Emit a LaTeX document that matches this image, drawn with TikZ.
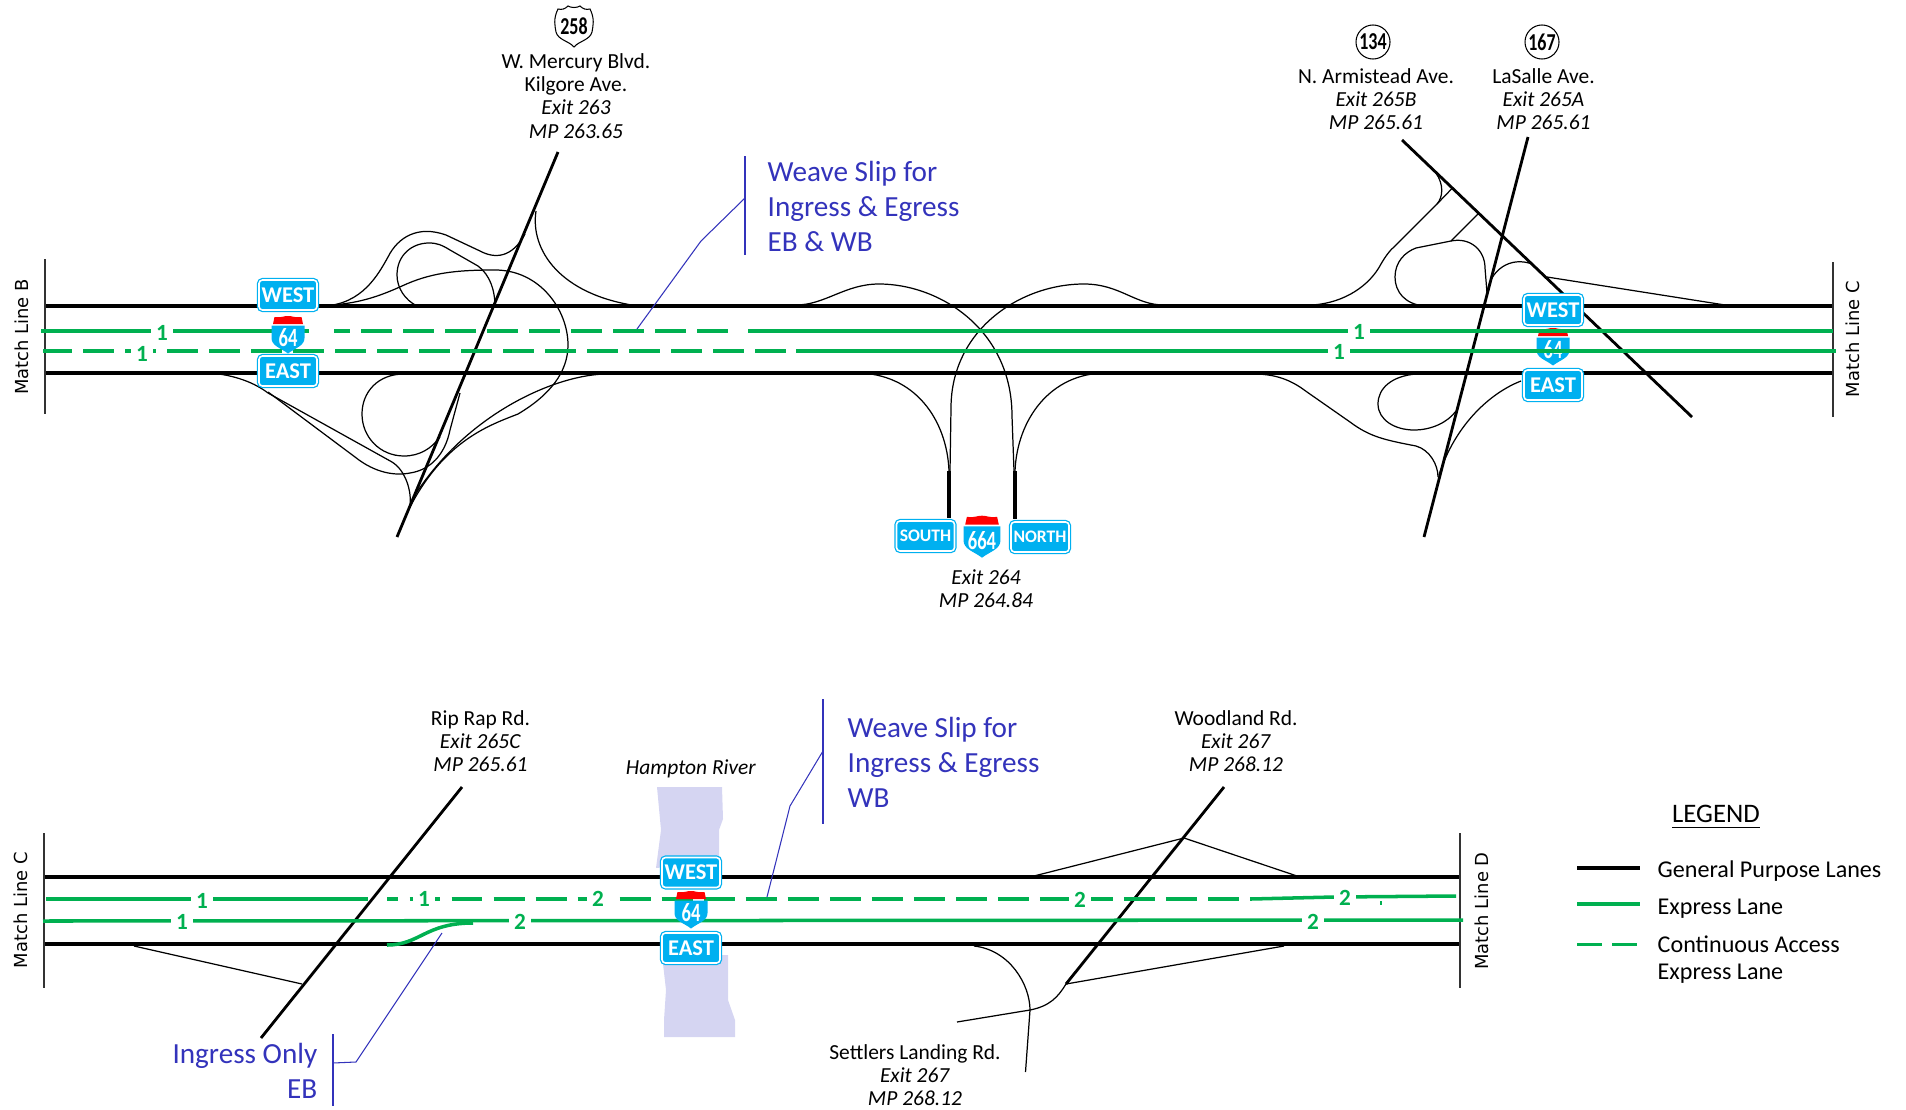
\documentclass[tikz,border=0pt]{standalone}
\usepackage{fontspec}
\setmainfont{Carlito}
\newfontfamily\matchfont{DejaVu Sans}
\definecolor{signblue}{HTML}{00B0F0}
\definecolor{signred}{HTML}{FF0000}
\definecolor{lanegreen}{HTML}{00B050}
\definecolor{notecolor}{HTML}{3333BB}
\definecolor{rivercolor}{HTML}{D5D5F2}
\tikzset{
  gplane/.style={line width=1pt},
  lane/.style={lanegreen,line width=1pt},
  accesslane/.style={lane,dash pattern=on 8.8pt off 3.15pt},
  mainroad/.style={line width=.8pt},
  ramp/.style={line width=.35pt},
  matchline/.style={line width=.3pt,black!80},
  leader/.style={notecolor,line width=.3pt},
  lanenum/.style={fill=white,inner sep=0pt,minimum width=.22cm,minimum height=.14cm,text=lanegreen,font=\fontsize{6.6}{7}\selectfont\bfseries},
  lanesign/.style={draw=signblue,fill=signblue,double=white,double distance=.45pt,line width=.35pt,rounded corners=1pt,
    minimum width=.58cm,minimum height=.30cm,inner sep=0pt,text=white,font=\fontsize{6.4}{7}\selectfont\bfseries},
  smallsign/.style={lanesign,font=\fontsize{5}{6}\selectfont\bfseries},
  exitlabel/.style={align=center,inner sep=0pt,font=\fontsize{6.1}{6.6}\selectfont},
  weavelabel/.style={inner sep=0pt,text=notecolor,font=\fontsize{8.3}{9.95}\selectfont},
  legendlabel/.style={anchor=west,inner sep=0pt,align=left,font=\fontsize{6.85}{7.5}\selectfont},
  matchlabel/.style={rotate=90,inner sep=0pt,font=\fontsize{5.1}{6}\matchfont},
  routenum/.style={inner sep=0pt,font=\fontsize{6}{7}\selectfont\bfseries},
}
\newcommand{\interstate}[5]{
  \begin{scope}[shift={(#2,#3)},scale=#5]
    \fill[signred] (-15,-11) -- (-13.5,-18) .. controls (-6,-17) and (-3,-19.5) .. (0,-19) .. controls (3,-19.5) and (6,-17) .. (13.5,-18) -- (15,-11) -- cycle;
    \fill[signblue] (-16.5,-9.5) -- (16.5,-9.5) -- (16.5,3) .. controls (16.5,11) and (7,13) .. (0,18.5) .. controls (-7,13) and (-16.5,11) .. (-16.5,3) -- cycle;
    \node[routenum,text=white] (#1) at (0,3) {\scalebox{.88}[1.25]{#4}};
  \end{scope}
}
\begin{document}
\begin{tikzpicture}[x=.01cm,y=-.01cm]
  \useasboundingbox (0,0) rectangle (1906,1109);

  \fill[rivercolor] (657,787) -- (722,787) -- (723,819) -- (719,830) -- (719,862) -- (656,868) -- (661,830) -- cycle;
  \fill[rivercolor] (662,955) -- (728,955) -- (728,1000) -- (735,1020) -- (735,1037) -- (664,1037) -- (664,1020) -- (666,990) -- cycle;

  \coordinate (bandAw) at (45,306);
  \coordinate (bandAe) at (1833,306);
  \coordinate (bandBw) at (45,373);
  \coordinate (bandBe) at (1833,373);
  \coordinate (bandCw) at (44,877);
  \coordinate (bandCe) at (1460,877);
  \coordinate (bandDw) at (44,944);
  \coordinate (bandDe) at (1460,944);
  \draw[gplane] (bandAw) -- (bandAe);
  \draw[gplane] (bandBw) -- (bandBe);
  \draw[gplane] (bandCw) -- (bandCe);
  \draw[gplane] (bandDw) -- (bandDe);

  \draw[matchline] (45,259) -- (45,414);
  \draw[matchline] (1833,262) -- (1833,417);
  \draw[matchline] (44,833) -- (44,988);
  \draw[matchline] (1460,833) -- (1460,988);

  \draw[ramp] (324,306) .. controls (362,304) and (378,275) .. (388,257) .. controls (398,237) and (418,225) .. (446,235) -- (480,251) .. controls (495,259) and (512,258) .. (525,234);
  \draw[ramp] (430,306) -- (417,306) .. controls (405,300) and (397,288) .. (397,275) .. controls (397,255) and (412,243) .. (429,243) .. controls (437,243) and (442,245) .. (450,250) -- (478,266) .. controls (490,275) and (495,290) .. (495,307);
  \draw[ramp] (332,305) .. controls (360,303) and (380,296) .. (402,286) .. controls (430,273) and (455,270) .. (495,270) .. controls (540,270) and (568,310) .. (568,345) .. controls (568,372) and (550,395) .. (518,414) .. controls (490,425) and (445,440) .. (410,507);
  \draw[ramp] (536,211) .. controls (530,250) and (560,295) .. (638,306);
  \draw[ramp] (210,373) .. controls (235,375) and (255,383) .. (268,393) -- (392,462) .. controls (405,470) and (412,490) .. (410,507);
  \draw[ramp] (268,392) -- (355,457) .. controls (375,473) and (395,476) .. (410,473) .. controls (430,470) and (445,455) .. (450,430) -- (460,393);
  \draw[ramp] (404,374) .. controls (378,374) and (362,392) .. (362,414) .. controls (362,437) and (380,456) .. (404,456) .. controls (420,456) and (432,448) .. (440,437);
  \draw[ramp] (607,374) .. controls (560,374) and (470,410) .. (415,495);

  \draw[ramp] (796,305) .. controls (825,305) and (845,284) .. (879,284) .. controls (940,284) and (1012,330) .. (1012,416) -- (1014,471);
  \draw[ramp] (1164,305) .. controls (1135,305) and (1120,284) .. (1084,284) .. controls (1020,284) and (951,330) .. (951,408) -- (950,471);
  \draw[ramp] (856,373) .. controls (915,373) and (947,420) .. (949,471);
  \draw[ramp] (1106,373) .. controls (1050,373) and (1017,420) .. (1015,471);
  \coordinate (southEnd) at (949,518);
  \coordinate (southTop) at (949,471);
  \coordinate (northEnd) at (1015,519);
  \coordinate (northTop) at (1015,471);
  \draw[gplane] (southTop) -- (southEnd);
  \draw[gplane] (northTop) -- (northEnd);

  \draw[ramp] (1312,305) .. controls (1345,303) and (1370,285) .. (1381,264) .. controls (1385,257) and (1390,250) .. (1395,246) -- (1437,204) .. controls (1443,197) and (1444,185) .. (1436,173);
  \draw[ramp] (1451.5,189) -- (1437,204);
  \draw[ramp] (1478,214) -- (1451,241);
  \draw[ramp] (1424,306) .. controls (1405,304) and (1395,292) .. (1395,277) .. controls (1395,262) and (1405,252) .. (1416,248) -- (1451,241) .. controls (1470,237) and (1485,250) .. (1485,268) -- (1487,293);
  \draw[ramp] (1487,293) .. controls (1490,270) and (1510,256) .. (1532,264);
  \draw[ramp] (1547,277) -- (1725,305);
  \draw[ramp] (1416,374) .. controls (1392,376) and (1378,388) .. (1378,404) .. controls (1378,420) and (1395,430) .. (1414,430) .. controls (1432,430) and (1448,422) .. (1456,411);
  \draw[ramp] (1254,374) .. controls (1280,374) and (1295,383) .. (1307,392) -- (1350,422) .. controls (1370,437) and (1385,440) .. (1416,446) .. controls (1430,450) and (1438,465) .. (1438,477);
  \draw[ramp] (1521,381) .. controls (1490,393) and (1455,425) .. (1439,475);

  \draw[ramp] (134,946) -- (302,984);
  \draw[ramp] (1030,877) -- (1184,838) -- (1300,877);
  \draw[ramp] (1284,946) -- (1066,984);
  \draw[ramp] (1066,984) .. controls (1058,997) and (1050,1006) .. (1030,1010) -- (957,1022);
  \draw[ramp] (974,946) .. controls (1010,950) and (1030,985) .. (1030,1010) -- (1025.5,1072);

  \coordinate (usTop) at (558,152);
  \coordinate (usEnd) at (397,537);
  \coordinate (armisteadTop) at (1402,140);
  \coordinate (armisteadEnd) at (1692,417);
  \coordinate (lasalleTop) at (1528,137);
  \coordinate (lasalleEnd) at (1424,537);
  \coordinate (ripTop) at (462,787);
  \coordinate (ripEnd) at (261,1038);
  \coordinate (woodTop) at (1224,787);
  \coordinate (woodEnd) at (1066,984);
  \draw[mainroad] (usTop) -- (usEnd);
  \draw[mainroad] (armisteadTop) -- (armisteadEnd);
  \draw[mainroad] (lasalleTop) -- (lasalleEnd);
  \draw[mainroad] (ripTop) -- (ripEnd);
  \draw[mainroad] (woodTop) -- (woodEnd);

  \interstate{shieldB}{1553}{347}{64}{1}

  \draw[lane] (41,331) -- (309,331);
  \draw[accesslane,dash phase=4.27pt] (334,331) -- (729,331);
  \draw[lane] (748,331) -- (1833,331);
  \draw[accesslane,dash phase=.57pt] (43,351) -- (789,351);
  \draw[lane] (796,351) -- (1836,351);
  \draw[lane] (46,899) -- (368,899);
  \draw[accesslane,dash phase=5.55pt] (387,899) -- (1251,899);
  \draw[lane] (1251,899) -- (1334,897) -- (1456,896);
  \draw[lane] (43,921) -- (1463,920);
  \draw[lane] (387,945) .. controls (420,945) and (425,923) .. (473,923);
  \draw[lanegreen,line width=.3pt] (1381,901) -- (1381,905);

  \foreach \lname/\lx/\ly/\ltext in {a/162/333/1,b/142/354/1,c/1359/332/1,d/1339/352/1,e/202/901/1,f/424/899/1,g/598/899/2,h/182/922/1,i/520/922/2,j/1080/900/2,k/1345/898/2,l/1313/922/2}
    \node[lanenum] (lanenum\lname) at (\lx,\ly) {\ltext};

  \interstate{shieldA}{288}{335}{64}{1}
  \interstate{shieldC}{691}{910}{64}{1}
  \interstate{shieldD}{982}{537}{664}{1.12}

  \node[lanesign] (westA) at (288,295) {WEST};
  \node[lanesign] (eastA) at (288,371) {EAST};
  \node[lanesign] (westB) at (1553,310) {WEST};
  \node[lanesign] (eastB) at (1553,385) {EAST};
  \node[lanesign] (westC) at (691,872.5) {WEST};
  \node[lanesign] (eastC) at (691,948) {EAST};
  \node[smallsign] (south) at (925.5,536) {SOUTH};
  \node[smallsign] (north) at (1040,537) {NORTH};

  \begin{scope}[shift={(574,26)}]
    \draw[fill=white,line width=.3pt] (-16,-17) .. controls (-12,-16) and (-9,-17) .. (-6,-20) .. controls (-3,-18) and (3,-18) .. (6,-20) .. controls (9,-17) and (12,-16) .. (16,-17)
      .. controls (21,-7) and (19,0) .. (18,6) .. controls (16,14) and (5,15) .. (0,21) .. controls (-5,15) and (-16,14) .. (-18,6) .. controls (-19,0) and (-21,-7) .. (-16,-17) -- cycle;
    \node[routenum] (route258) at (0,0) {\scalebox{.85}[1.15]{258}};
  \end{scope}
  \node[routenum,draw,circle,line width=.3pt,minimum size=.34cm] (route134) at (1373,42) {\scalebox{.85}[1.15]{134}};
  \node[routenum,draw,circle,line width=.3pt,minimum size=.34cm] (route167) at (1542,42) {\scalebox{.85}[1.15]{167}};

  \node[exitlabel] (mercury) at (576,96) {W. Mercury Blvd.\\Kilgore Ave.\\\textit{Exit 263}\\\textit{MP 263.65}};
  \node[exitlabel] (armistead) at (1376,99) {N. Armistead Ave.\\\textit{Exit 265B}\\\textit{MP 265.61}};
  \node[exitlabel] (lasalle) at (1543.5,99) {LaSalle Ave.\\\textit{Exit 265A}\\\textit{MP 265.61}};
  \node[exitlabel] (exit664) at (986,589) {\textit{Exit 264}\\\textit{MP 264.84}};
  \node[exitlabel] (riprap) at (480.5,741) {Rip Rap Rd.\\\textit{Exit 265C}\\\textit{MP 265.61}};
  \node[exitlabel] (hampton) at (691,769) {\textit{Hampton River}};
  \node[exitlabel] (woodland) at (1236,741) {Woodland Rd.\\\textit{Exit 267}\\\textit{MP 268.12}};
  \node[exitlabel] (settlers) at (915,1075) {Settlers Landing Rd.\\\textit{Exit 267}\\\textit{MP 268.12}};

  \node[matchlabel] (matchB) at (22,337) {Match Line B};
  \node[matchlabel] (matchCa) at (1853,339) {Match Line C};
  \node[matchlabel] (matchCb) at (21,910) {Match Line C};
  \node[matchlabel] (matchD) at (1482,911) {Match Line D};

  \node[weavelabel,align=left,anchor=west] (weaveA) at (767,206) {Weave Slip for\\Ingress \& Egress\\EB \& WB};
  \node[weavelabel,align=left,anchor=west] (weaveB) at (847,762) {Weave Slip for\\Ingress \& Egress\\WB};
  \node[weavelabel,align=right,anchor=east] (ingress) at (318,1071) {Ingress Only\\EB};

  \coordinate (weaveAbarT) at (745,156);
  \coordinate (weaveAbarB) at (745,255);
  \coordinate (weaveAtip) at (637,329);
  \coordinate (weaveBbarT) at (823,699);
  \coordinate (weaveBbarB) at (823,824);
  \coordinate (weaveBtip) at (767,897);
  \coordinate (ingressbarT) at (333,1034);
  \coordinate (ingressbarB) at (333,1106);
  \coordinate (ingresstip) at (442,933);
  \draw[leader] (weaveAbarT) -- (weaveAbarB);
  \draw[leader] (745,198) -- (701,241) -- (weaveAtip);
  \draw[leader] (weaveBbarT) -- (weaveBbarB);
  \draw[leader] (823,751) -- (790,806) -- (weaveBtip);
  \draw[leader] (ingressbarT) -- (ingressbarB);
  \draw[leader] (333,1063) -- (356,1062) -- (ingresstip);

  \node[inner sep=0pt,font=\fontsize{7.6}{9}\selectfont] (legend) at (1716,817.5) {\underline{LEGEND}};
  \coordinate (keyAw) at (1577,868);
  \coordinate (keyAe) at (1640,868);
  \coordinate (keyBw) at (1577,904);
  \coordinate (keyBe) at (1640,904);
  \coordinate (keyCw) at (1577,944);
  \coordinate (keyCe) at (1639,944);
  \draw[gplane] (keyAw) -- (keyAe);
  \draw[lane] (keyBw) -- (keyBe);
  \draw[lane,line width=.85pt,dash pattern=on 7.1pt off 2.9pt] (keyCw) -- (keyCe);
  \node[legendlabel] (keyAtext) at (1657,871.5) {General Purpose Lanes};
  \node[legendlabel] (keyBtext) at (1657,908.5) {Express Lane};
  \node[legendlabel] (keyCtext) at (1657,959.5) {Continuous Access\\Express Lane};
\end{tikzpicture}
\end{document}
